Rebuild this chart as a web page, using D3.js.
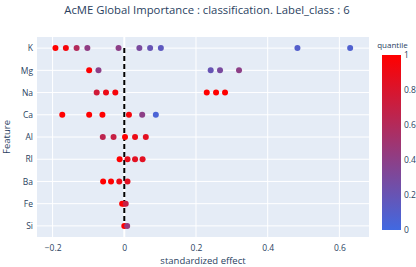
<!DOCTYPE html>
<html><head><meta charset="utf-8">
<script src="https://cdn.jsdelivr.net/npm/d3@7"></script>
<style>body{margin:0;background:#fff;}svg{display:block;font-family:"Open Sans",sans-serif;}</style>
</head><body><svg id="c" width="416" height="267"></svg>
<script>
const features = ["K","Mg","Na","Ca","Al","RI","Ba","Fe","Si"];
const effectK  = [-0.192,-0.163,-0.133,-0.103,-0.016,0.042,0.072,0.102,0.483,0.630];
const quantK   = [1,0.95,0.6,0.42,0.4,0.3,0.2,0.15,0.1,0.08];
const effectMg = [-0.098,-0.072,0.241,0.267,0.320];
const quantMg  = [1,0.4,0.2,0.3,0.4];
const effectNa = [-0.077,-0.051,-0.025,0.230,0.256,0.281];
const quantNa  = [0.75,0.9,0.95,1,1,1];
const effectCa = [-0.173,-0.098,-0.061,0.013,0.050,0.088];
const quantCa  = [1,1,1,0.95,0.4,0.05];
const effectAl = [-0.060,-0.030,0.002,0.030,0.060];
const quantAl  = [0.65,0.7,1,0.9,0.85];
const effectRI = [-0.013,0.009,0.030,0.051];
const quantRI  = [1,0.88,0.85,0.85];
const effectBa = [-0.059,-0.037,-0.014,0.009];
const quantBa  = [1,1,0.9,0.85];
const effectFe = [-0.006,-0.001,0.004];
const quantFe  = [1,1,0.7];
const effectSi = [0.000,0.008];
const quantSi  = [1,0.45];
const xTicks = [-0.2,0,0.2,0.4,0.6];
const cbTicks = [0,0.2,0.4,0.6,0.8,1];

const effects = {K:effectK,Mg:effectMg,Na:effectNa,Ca:effectCa,Al:effectAl,RI:effectRI,Ba:effectBa,Fe:effectFe,Si:effectSi};
const quants = {K:quantK,Mg:quantMg,Na:quantNa,Ca:quantCa,Al:quantAl,RI:quantRI,Ba:quantBa,Fe:quantFe,Si:quantSi};
const pts = [];
features.forEach(f => effects[f].forEach((v,i) => pts.push({f, v, q: quants[f][i]})));

const svg = d3.select("#c");
const L=37, R=369, T=37, B=237;
const x = d3.scaleLinear().domain([-0.2435,0.6826]).range([L,R]);
const y = d3.scalePoint().domain(features).range([T,B]).padding(0.5);
const color = d3.scaleLinear().domain([0,1]).range(["rgb(65,105,225)","rgb(255,0,0)"]).interpolate(d3.interpolateRgb);
const txt = "#2a3f5f";

svg.append("rect").attr("x",L).attr("y",T).attr("width",R-L).attr("height",B-T).attr("fill","#E5ECF6");
// grid
svg.append("g").selectAll("line").data(xTicks).join("line")
  .attr("x1",d=>x(d)).attr("x2",d=>x(d)).attr("y1",T).attr("y2",B)
  .attr("stroke","#fff").attr("stroke-width",d=>d===0?2:1);
svg.append("g").selectAll("line").data(features).join("line")
  .attr("x1",L).attr("x2",R).attr("y1",d=>y(d)).attr("y2",d=>y(d))
  .attr("stroke","#fff").attr("stroke-width",1);

// axes
const xa = svg.append("g").attr("transform",`translate(0,${B})`)
  .call(d3.axisBottom(x).tickValues(xTicks).tickSize(0).tickPadding(8).tickFormat(d=>d===0?"0":d3.format("")(d).replace("-","\u2212")));
xa.select(".domain").remove();
xa.selectAll("text").attr("fill",txt).attr("font-size",8.5).attr("font-family","Open Sans");
const ya = svg.append("g").attr("transform",`translate(${L},0)`)
  .call(d3.axisLeft(y).tickSize(0).tickPadding(4));
ya.select(".domain").remove();
ya.selectAll("text").attr("fill",txt).attr("font-size",8.5).attr("font-family","Open Sans");

// dashed zero line
svg.append("line").attr("x1",x(0)).attr("x2",x(0)).attr("y1",y("K")).attr("y2",y("Si"))
  .attr("stroke","#000").attr("stroke-width",2).attr("stroke-dasharray","5,3");

// points
svg.append("g").selectAll("circle").data(pts).join("circle")
  .attr("cx",d=>x(d.v)).attr("cy",d=>y(d.f)).attr("r",3).attr("fill",d=>color(d.q));

// titles
svg.append("text").attr("x",207).attr("y",14).attr("text-anchor","middle").attr("fill",txt)
  .attr("font-size",11.3).text("AcME Global Importance : classification. Label_class : 6");
svg.append("text").attr("x",(L+R)/2).attr("y",264).attr("text-anchor","middle").attr("fill",txt)
  .attr("font-size",9.5).text("standardized effect");
svg.append("text").attr("transform",`translate(10,${(T+B)/2}) rotate(-90)`).attr("text-anchor","middle").attr("fill",txt)
  .attr("font-size",9.5).text("Feature");

// colorbar
const cbX=382, cbW=19, cbT=55, cbB=230;
const defs = svg.append("defs");
const grad = defs.append("linearGradient").attr("id","cbg").attr("x1",0).attr("x2",0).attr("y1",1).attr("y2",0);
cbTicks.forEach(t => grad.append("stop").attr("offset",t).attr("stop-color",color(t)));
svg.append("rect").attr("x",cbX).attr("y",cbT).attr("width",cbW).attr("height",cbB-cbT).attr("fill","url(#cbg)");
const cy = d3.scaleLinear().domain([0,1]).range([cbB,cbT]);
const ca = svg.append("g").attr("transform",`translate(${cbX+cbW},0)`)
  .call(d3.axisRight(cy).tickValues(cbTicks).tickSize(0).tickPadding(3).tickFormat(d=>d===0?"0":d===1?"1":d3.format(".1f")(d)));
ca.select(".domain").remove();
ca.selectAll("text").attr("fill",txt).attr("font-size",8.5).attr("font-family","Open Sans");
svg.append("text").attr("x",cbX+cbW/2+1).attr("y",48).attr("text-anchor","middle").attr("fill",txt)
  .attr("font-size",8).text("quantile");
</script></body></html>
